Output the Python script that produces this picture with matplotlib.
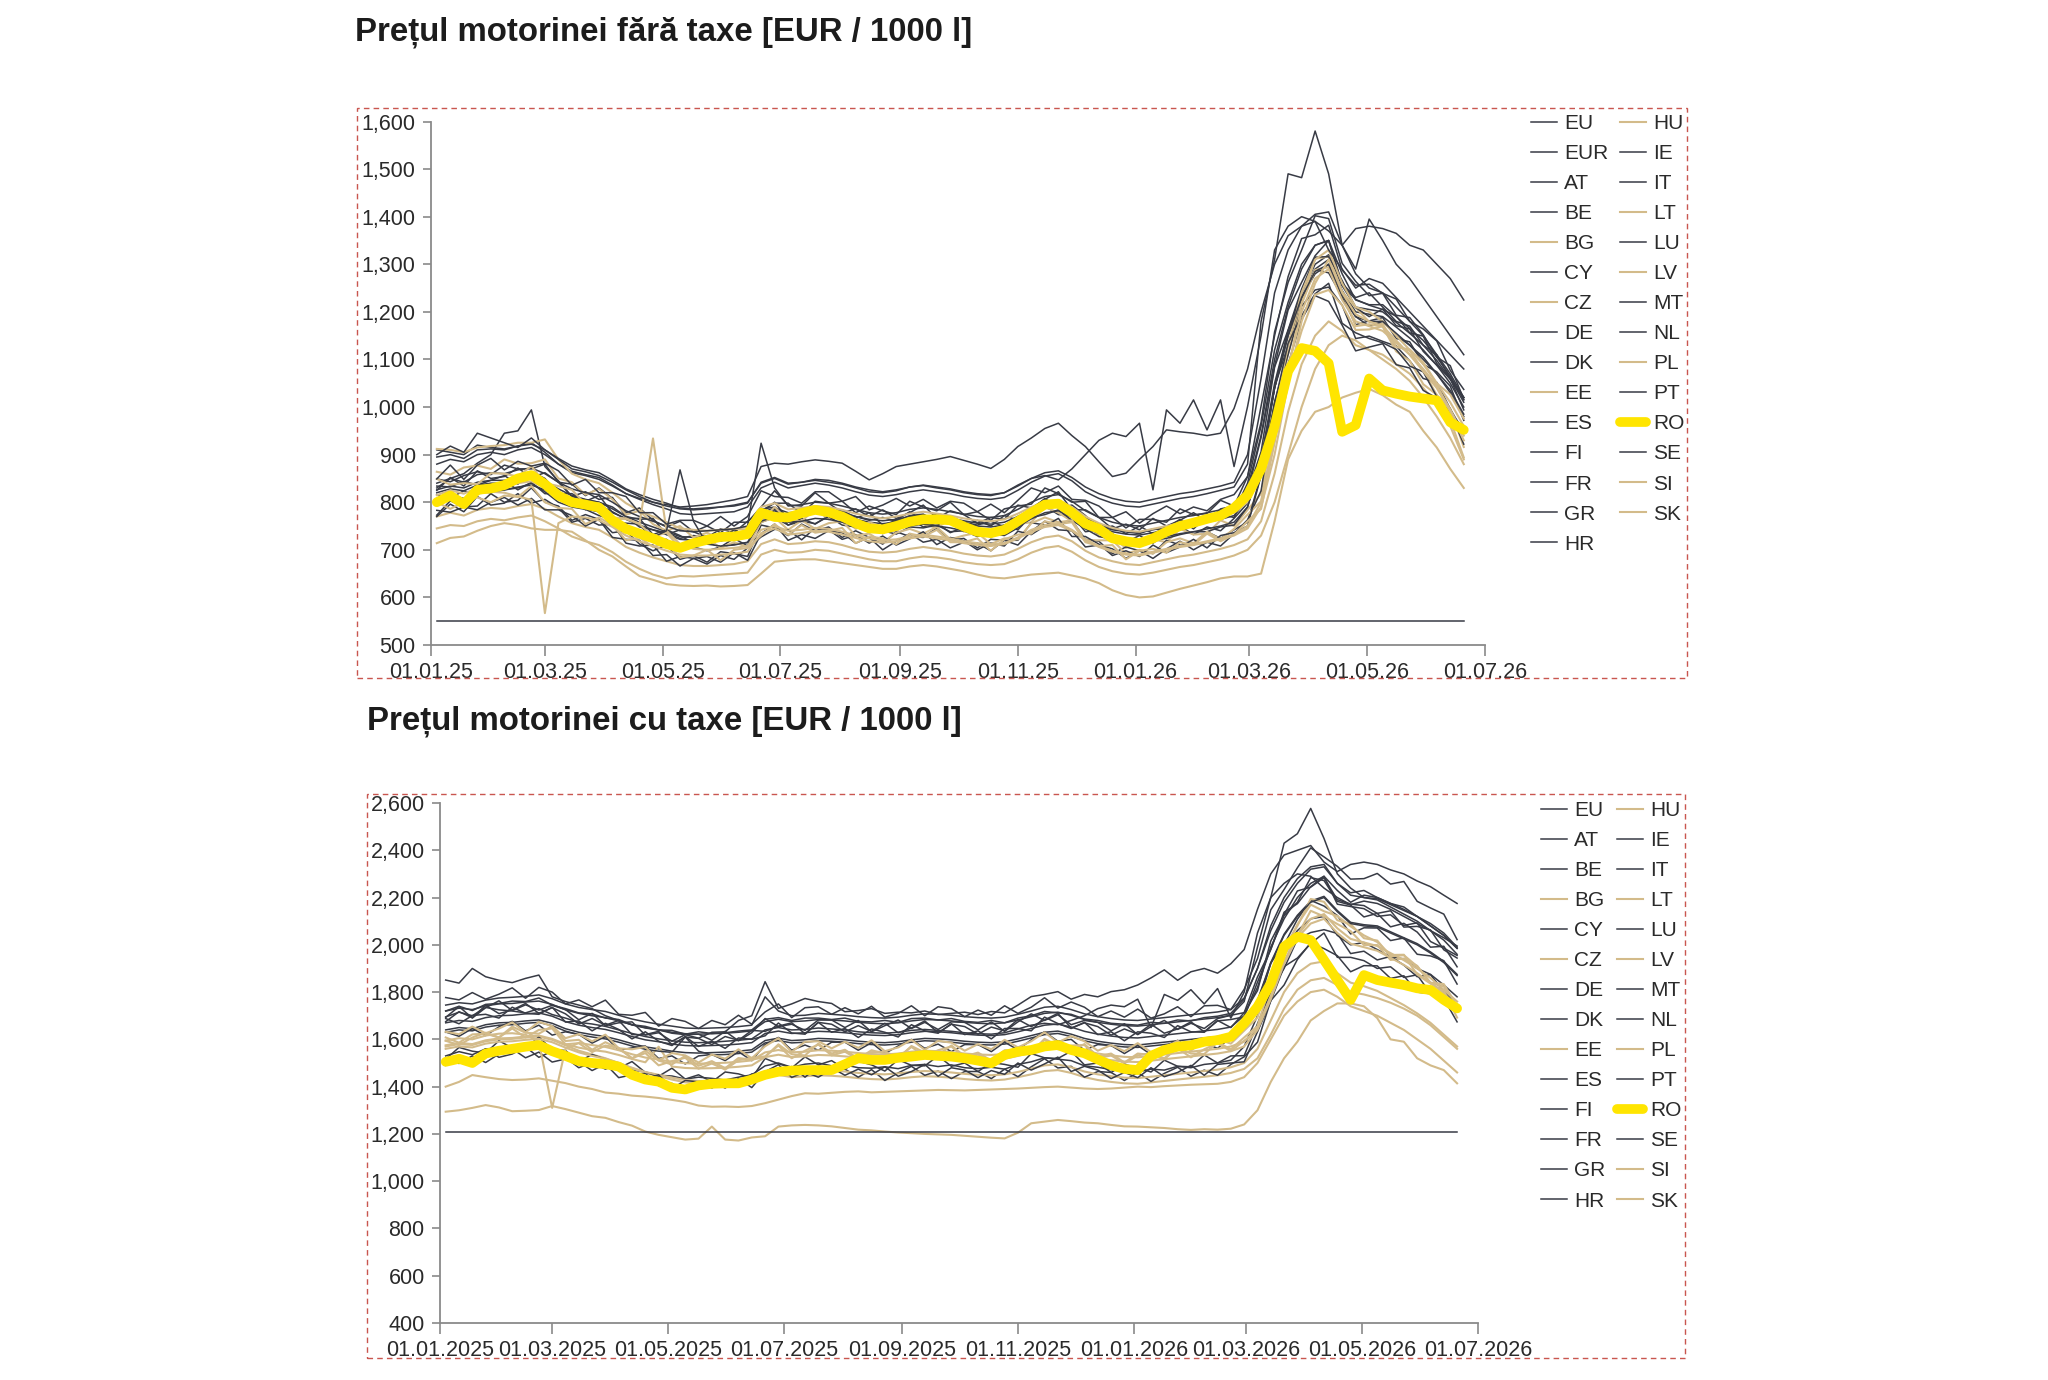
import datetime
import matplotlib
matplotlib.use("Agg")
import matplotlib.pyplot as plt
import matplotlib.dates as mdates
from matplotlib.patches import Rectangle
from matplotlib.ticker import FuncFormatter
import pandas as pd

plt.rcParams['font.family'] = ['Liberation Sans', 'DejaVu Sans']

# ---------------- data ----------------
START_DATE = '2025-01-04'
N_WEEKS = 77
TITLE_TOP = 'Prețul motorinei fără taxe [EUR / 1000 l]'
TITLE_BOT = 'Prețul motorinei cu taxe [EUR / 1000 l]'
TAN_COUNTRIES = ['BG', 'CZ', 'EE', 'HU', 'LT', 'LV', 'PL', 'SI', 'SK']
TOP_ORDER = ['EU', 'EUR', 'AT', 'BE', 'BG', 'CY', 'CZ', 'DE', 'DK', 'EE', 'ES', 'FI', 'FR', 'GR', 'HR',
             'HU', 'IE', 'IT', 'LT', 'LU', 'LV', 'MT', 'NL', 'PL', 'PT', 'RO', 'SE', 'SI', 'SK']
BOT_ORDER = ['EU', 'AT', 'BE', 'BG', 'CY', 'CZ', 'DE', 'DK', 'EE', 'ES', 'FI', 'FR', 'GR', 'HR',
             'HU', 'IE', 'IT', 'LT', 'LU', 'LV', 'MT', 'NL', 'PL', 'PT', 'RO', 'SE', 'SI', 'SK']
TOP_YTICKS = [500, 600, 700, 800, 900, 1000, 1100, 1200, 1300, 1400, 1500, 1600]
BOT_YTICKS = [400, 600, 800, 1000, 1200, 1400, 1600, 1800, 2000, 2200, 2400, 2600]
X_TICK_DATES = ['2025-01-01', '2025-03-01', '2025-05-01', '2025-07-01', '2025-09-01',
                '2025-11-01', '2026-01-01', '2026-03-01', '2026-05-01', '2026-07-01']

# Malta: fixed price (flat line)
TOP_MT_VALUE = 550
BOT_MT_VALUE = 1210

# ---- prices without taxes ----
TOP_EU = [820, 828, 824, 836, 840, 840, 846, 850, 838, 822,
          808, 800, 794, 780, 764, 752, 742, 732, 722, 720,
          720, 722, 724, 730, 772, 782, 772, 774, 778, 776,
          770, 764, 758, 755, 758, 764, 766, 764, 760, 755,
          750, 748, 752, 764, 778, 790, 794, 780, 762, 748,
          738, 733, 731, 736, 742, 748, 752, 758, 764, 772,
          805, 880, 1040, 1150, 1230, 1290, 1310, 1245, 1200, 1195,
          1190, 1168, 1145, 1120, 1088, 1050, 1000]
TOP_EUR = [826, 834, 830, 842, 846, 846, 852, 856, 844, 828,
           814, 806, 800, 786, 770, 758, 748, 738, 728, 726,
           726, 728, 730, 736, 778, 788, 778, 780, 784, 782,
           776, 770, 764, 761, 764, 770, 772, 770, 766, 761,
           756, 754, 758, 770, 784, 796, 800, 786, 768, 754,
           744, 739, 737, 742, 748, 754, 758, 764, 770, 778,
           812, 890, 1050, 1160, 1240, 1300, 1320, 1255, 1210, 1205,
           1200, 1178, 1155, 1130, 1098, 1060, 1010]
TOP_AT = [816, 809, 824, 816, 832, 844, 826, 842, 818, 818,
          806, 784, 798, 758, 756, 754, 720, 722, 698, 712,
          716, 706, 724, 708, 764, 786, 752, 766, 754, 772,
          768, 746, 758, 734, 752, 766, 748, 756, 736, 748,
          746, 730, 752, 742, 772, 792, 774, 772, 738, 742,
          734, 716, 730, 714, 734, 750, 732, 748, 740, 766,
          798, 864, 1042, 1130, 1224, 1289, 1282, 1232, 1173, 1181,
          1188, 1144, 1137, 1090, 1074, 1044, 972]
TOP_BE = [825, 852, 834, 866, 850, 854, 872, 852, 862, 842,
          812, 822, 806, 810, 770, 764, 766, 732, 742, 738,
          726, 744, 736, 760, 782, 798, 798, 776, 802, 798,
          778, 786, 770, 784, 766, 778, 794, 766, 782, 774,
          756, 768, 764, 794, 788, 806, 822, 784, 784, 768,
          744, 754, 742, 766, 750, 762, 778, 760, 786, 792,
          820, 936, 1086, 1204, 1262, 1318, 1350, 1256, 1226, 1214,
          1205, 1191, 1156, 1149, 1092, 1058, 1020]
TOP_CY = [830, 850, 860, 882, 900, 945, 950, 994, 875, 845,
          812, 805, 800, 790, 770, 748, 742, 736, 724, 730,
          726, 718, 728, 738, 785, 790, 770, 782, 790, 772,
          780, 770, 762, 768, 760, 772, 775, 760, 770, 758,
          752, 760, 748, 770, 782, 800, 790, 785, 758, 750,
          742, 738, 734, 744, 740, 756, 750, 762, 768, 780,
          840, 960, 1120, 1220, 1300, 1340, 1350, 1260, 1230, 1240,
          1210, 1180, 1170, 1130, 1110, 1060, 1020]
TOP_DE = [849, 843, 856, 864, 858, 878, 870, 870, 880, 842,
          838, 814, 830, 808, 778, 788, 762, 748, 760, 738,
          750, 736, 758, 758, 790, 824, 794, 792, 820, 798,
          802, 778, 792, 782, 774, 802, 790, 782, 800, 774,
          780, 762, 786, 792, 796, 830, 818, 800, 802, 768,
          768, 746, 764, 764, 758, 786, 774, 776, 804, 792,
          854, 968, 1158, 1262, 1330, 1402, 1396, 1302, 1264, 1234,
          1239, 1193, 1188, 1152, 1105, 1087, 1016]
TOP_DK = [910, 905, 900, 920, 915, 912, 918, 925, 905, 880,
          862, 856, 848, 834, 818, 808, 800, 795, 790, 792,
          795, 800, 805, 812, 875, 882, 880, 885, 889, 886,
          882, 865, 847, 860, 875, 880, 885, 890, 896, 888,
          880, 871, 890, 917, 935, 955, 966, 940, 917, 885,
          854, 861, 890, 917, 952, 948, 945, 940, 945, 997,
          1080, 1200, 1300, 1360, 1380, 1390, 1370, 1340, 1375, 1380,
          1375, 1365, 1340, 1330, 1300, 1270, 1225]
TOP_ES = [773, 803, 790, 792, 818, 800, 804, 830, 800, 792,
          762, 774, 764, 736, 740, 712, 698, 710, 680, 688,
          674, 696, 692, 686, 752, 746, 730, 754, 740, 748,
          726, 740, 726, 712, 738, 728, 726, 746, 720, 724,
          704, 722, 720, 720, 757, 752, 752, 762, 722, 718,
          692, 706, 698, 692, 720, 710, 710, 738, 724, 742,
          758, 858, 1012, 1110, 1212, 1246, 1252, 1214, 1144, 1149,
          1138, 1128, 1097, 1060, 1052, 996, 947]
TOP_FI = [880, 890, 885, 900, 905, 900, 910, 915, 900, 880,
          865, 858, 852, 836, 818, 806, 795, 786, 776, 774,
          776, 778, 780, 790, 830, 842, 830, 835, 840, 836,
          830, 822, 815, 812, 816, 822, 826, 822, 818, 812,
          808, 806, 810, 825, 842, 855, 860, 845, 822, 808,
          798, 792, 790, 796, 802, 808, 812, 818, 825, 832,
          880, 1180, 1310, 1490, 1482, 1580, 1490, 1340, 1280, 1250,
          1240, 1210, 1180, 1150, 1110, 1070, 1020]
TOP_FR = [834, 832, 844, 836, 846, 856, 838, 864, 850, 818,
          818, 802, 814, 778, 766, 766, 732, 742, 730, 714,
          730, 724, 742, 728, 778, 800, 764, 786, 790, 774,
          784, 766, 778, 752, 762, 780, 760, 776, 770, 750,
          762, 750, 772, 762, 784, 808, 788, 794, 772, 744,
          750, 734, 750, 734, 746, 764, 744, 770, 774, 768,
          821, 906, 1084, 1162, 1248, 1315, 1316, 1266, 1209, 1190,
          1206, 1171, 1164, 1117, 1088, 1060, 994]
TOP_GR = [800, 812, 798, 822, 820, 826, 830, 840, 822, 800,
          790, 785, 772, 764, 742, 736, 720, 718, 702, 706,
          698, 706, 712, 715, 758, 768, 752, 760, 755, 770,
          752, 748, 738, 740, 733, 748, 746, 752, 738, 740,
          728, 734, 730, 746, 768, 774, 784, 762, 744, 728,
          722, 716, 712, 720, 724, 732, 738, 738, 748, 752,
          790, 890, 1040, 1160, 1230, 1280, 1300, 1230, 1190, 1170,
          1180, 1150, 1130, 1100, 1070, 1030, 980]
TOP_HR = [783, 779, 790, 784, 800, 810, 794, 808, 784, 784,
          772, 750, 764, 726, 722, 720, 688, 690, 666, 682,
          686, 674, 694, 678, 734, 754, 720, 732, 724, 740,
          736, 714, 726, 700, 718, 734, 716, 722, 704, 716,
          714, 698, 720, 710, 739, 760, 742, 740, 706, 710,
          702, 682, 698, 682, 702, 718, 700, 716, 708, 734,
          763, 824, 1002, 1090, 1184, 1234, 1222, 1172, 1118, 1126,
          1133, 1089, 1082, 1035, 1019, 989, 922]
TOP_IE = [895, 900, 892, 910, 912, 910, 918, 922, 910, 892,
          876, 868, 862, 846, 828, 816, 806, 798, 788, 786,
          788, 790, 792, 798, 842, 852, 840, 842, 848, 846,
          840, 832, 826, 822, 826, 832, 836, 832, 828, 822,
          818, 816, 820, 834, 850, 862, 866, 852, 832, 818,
          808, 802, 800, 806, 812, 818, 822, 828, 834, 842,
          900, 1060, 1240, 1330, 1380, 1405, 1410, 1340, 1290, 1395,
          1350, 1300, 1270, 1230, 1190, 1150, 1110]
TOP_IT = [840, 850, 842, 858, 862, 860, 868, 872, 860, 842,
          828, 820, 816, 800, 782, 770, 760, 750, 740, 738,
          740, 742, 744, 750, 924, 830, 792, 795, 800, 798,
          792, 785, 778, 775, 778, 785, 788, 785, 780, 775,
          770, 768, 772, 785, 800, 812, 816, 802, 782, 768,
          758, 752, 750, 756, 762, 768, 772, 778, 784, 792,
          830, 940, 1100, 1210, 1290, 1340, 1350, 1280, 1225, 1215,
          1215, 1190, 1165, 1140, 1105, 1065, 1015]
TOP_LU = [770, 796, 780, 812, 794, 798, 818, 798, 806, 788,
          758, 766, 752, 754, 714, 708, 710, 676, 686, 682,
          670, 688, 680, 704, 727, 743, 742, 721, 746, 742,
          722, 731, 714, 729, 710, 723, 738, 711, 726, 719,
          700, 714, 708, 739, 732, 750, 766, 728, 728, 712,
          688, 698, 686, 710, 694, 706, 722, 704, 730, 736,
          750, 856, 1006, 1134, 1192, 1238, 1260, 1176, 1156, 1144,
          1135, 1121, 1086, 1074, 1022, 988, 955]
TOP_NL = [849, 878, 848, 878, 892, 868, 886, 876, 882, 866,
          836, 848, 820, 820, 812, 778, 778, 754, 762, 762,
          750, 770, 750, 770, 824, 812, 810, 798, 822, 822,
          802, 812, 784, 794, 808, 792, 806, 788, 802, 798,
          780, 796, 778, 804, 830, 820, 834, 806, 804, 792,
          768, 780, 756, 776, 792, 776, 790, 782, 806, 816,
          854, 1002, 1150, 1274, 1354, 1362, 1382, 1288, 1256, 1258,
          1239, 1227, 1180, 1164, 1139, 1077, 1037]
TOP_PT = [805, 815, 808, 824, 826, 826, 832, 836, 826, 808,
          792, 786, 780, 766, 748, 736, 726, 740, 868, 760,
          712, 708, 710, 716, 760, 770, 758, 760, 766, 764,
          758, 750, 744, 740, 744, 750, 754, 750, 746, 740,
          736, 734, 738, 750, 765, 778, 782, 768, 748, 734,
          724, 718, 716, 722, 728, 734, 738, 744, 750, 758,
          790, 880, 1040, 1150, 1230, 1285, 1300, 1235, 1190, 1180,
          1180, 1155, 1130, 1105, 1070, 1035, 985]
TOP_SE = [900, 918, 905, 945, 935, 925, 915, 935, 910, 890,
          870, 864, 856, 842, 826, 812, 800, 792, 786, 784,
          786, 790, 794, 800, 840, 850, 838, 842, 846, 842,
          838, 830, 822, 820, 824, 832, 835, 830, 826, 820,
          816, 814, 820, 836, 850, 856, 847, 870, 900, 930,
          945, 938, 966, 826, 994, 966, 1015, 952, 1015, 875,
          1001, 1150, 1330, 1380, 1400, 1390, 1330, 1290, 1250, 1270,
          1260, 1230, 1200, 1170, 1140, 1110, 1080]
TOP_HU = [912, 910, 905, 915, 918, 920, 925, 925, 932, 890,
          860, 848, 840, 820, 798, 782, 770, 758, 745, 742,
          740, 742, 744, 748, 790, 798, 785, 788, 792, 790,
          784, 776, 770, 766, 770, 776, 780, 776, 772, 766,
          762, 760, 764, 776, 790, 800, 804, 790, 770, 756,
          746, 740, 738, 744, 750, 756, 760, 766, 772, 778,
          800, 860, 990, 1130, 1240, 1310, 1330, 1260, 1210, 1200,
          1180, 1150, 1120, 1090, 1050, 1010, 960]
TOP_EE = [864, 858, 873, 877, 870, 890, 881, 882, 890, 850,
          842, 816, 828, 806, 774, 782, 754, 740, 750, 726,
          736, 722, 744, 742, 760, 790, 762, 760, 786, 764,
          768, 744, 758, 748, 738, 766, 754, 746, 764, 738,
          744, 726, 748, 754, 758, 790, 778, 760, 762, 728,
          726, 704, 722, 722, 716, 744, 732, 734, 762, 750,
          784, 818, 968, 1112, 1220, 1312, 1316, 1242, 1209, 1179,
          1174, 1128, 1118, 1077, 1025, 997, 916]
TOP_LT = [849, 837, 840, 838, 861, 860, 854, 876, 840, 834,
          826, 796, 798, 768, 766, 754, 728, 736, 704, 714,
          724, 704, 716, 706, 758, 768, 742, 762, 744, 756,
          760, 730, 734, 716, 736, 744, 734, 748, 722, 730,
          736, 712, 724, 722, 756, 768, 758, 762, 720, 720,
          720, 692, 700, 692, 716, 724, 714, 738, 722, 744,
          774, 802, 942, 1078, 1216, 1288, 1294, 1242, 1170, 1174,
          1169, 1117, 1097, 1048, 1026, 973, 894]
TOP_LV = [815, 825, 818, 830, 835, 832, 840, 844, 830, 812,
          796, 788, 780, 764, 765, 755, 934, 740, 712, 702,
          700, 702, 704, 708, 742, 750, 740, 742, 746, 744,
          738, 730, 724, 720, 722, 728, 732, 728, 724, 718,
          714, 712, 714, 726, 742, 752, 756, 742, 722, 708,
          698, 692, 690, 696, 702, 708, 712, 718, 724, 732,
          750, 800, 930, 1080, 1200, 1270, 1290, 1225, 1180, 1170,
          1160, 1135, 1110, 1080, 1045, 995, 940]
TOP_SK = [800, 810, 806, 818, 822, 820, 812, 805, 567, 756,
          770, 768, 762, 748, 730, 718, 708, 698, 690, 688,
          688, 690, 692, 696, 735, 745, 732, 735, 740, 738,
          732, 725, 718, 715, 718, 724, 728, 724, 720, 714,
          710, 708, 712, 724, 738, 748, 752, 740, 720, 706,
          696, 690, 688, 694, 700, 706, 710, 716, 722, 730,
          745, 790, 900, 1050, 1180, 1260, 1310, 1240, 1195, 1180,
          1170, 1140, 1110, 1075, 1040, 990, 930]
TOP_SI = [800, 786, 800, 810, 800, 814, 811, 834, 800, 788,
          786, 754, 768, 752, 720, 726, 706, 714, 684, 688,
          700, 678, 700, 704, 730, 754, 732, 752, 736, 740,
          746, 714, 728, 724, 712, 734, 728, 742, 716, 716,
          724, 698, 722, 732, 734, 760, 754, 758, 716, 708,
          710, 680, 698, 702, 694, 716, 710, 734, 718, 732,
          760, 786, 926, 1064, 1160, 1236, 1246, 1214, 1162, 1163,
          1170, 1126, 1121, 1094, 1050, 1026, 976]
TOP_CZ = [770, 778, 772, 784, 788, 786, 792, 796, 786, 770,
          756, 748, 742, 726, 706, 694, 684, 676, 668, 666,
          666, 668, 670, 676, 712, 722, 712, 714, 718, 716,
          710, 702, 696, 694, 696, 702, 706, 702, 698, 692,
          688, 686, 690, 702, 716, 726, 730, 718, 698, 684,
          676, 670, 668, 674, 680, 686, 690, 696, 702, 710,
          722, 760, 860, 990, 1090, 1150, 1180, 1160, 1130, 1120,
          1110, 1090, 1070, 1040, 1005, 960, 890]
TOP_BG = [745, 752, 750, 760, 765, 762, 768, 772, 760, 745,
          728, 718, 710, 695, 675, 660, 648, 640, 645, 644,
          646, 648, 650, 652, 690, 700, 694, 695, 700, 698,
          692, 686, 680, 676, 676, 682, 686, 684, 680, 674,
          670, 668, 670, 680, 694, 704, 708, 696, 678, 664,
          655, 650, 648, 652, 658, 664, 668, 674, 680, 688,
          700, 730, 800, 900, 1000, 1080, 1130, 1150, 1140, 1120,
          1100, 1080, 1055, 1020, 980, 935, 880]
TOP_PL = [714, 725, 728, 740, 750, 756, 752, 745, 742, 742,
          738, 720, 700, 686, 665, 645, 637, 628, 625, 624,
          625, 623, 624, 626, 650, 675, 678, 680, 680, 676,
          672, 668, 664, 660, 660, 665, 668, 665, 660, 655,
          648, 642, 640, 644, 648, 650, 652, 646, 640, 630,
          615, 605, 600, 602, 610, 618, 625, 632, 640, 644,
          644, 650, 760, 890, 950, 990, 1000, 1020, 1030, 1038,
          1025, 1005, 990, 950, 915, 870, 830]
TOP_RO = [800, 814, 796, 826, 829, 836, 850, 857, 838, 814,
          800, 795, 789, 762, 744, 734, 724, 712, 704, 714,
          721, 727, 728, 733, 778, 769, 768, 777, 784, 779,
          770, 756, 745, 743, 750, 759, 764, 764, 762, 749,
          738, 735, 742, 760, 778, 795, 797, 778, 755, 744,
          724, 718, 714, 724, 738, 750, 757, 765, 772, 788,
          815, 870, 960, 1075, 1124, 1118, 1092, 948, 962, 1060,
          1035, 1028, 1022, 1018, 1014, 968, 952]

# ---- prices with taxes ----
BOT_EU = [1640, 1650, 1645, 1662, 1670, 1672, 1678, 1682, 1668, 1645,
          1630, 1620, 1612, 1598, 1582, 1568, 1560, 1550, 1544, 1542,
          1544, 1546, 1550, 1556, 1595, 1605, 1595, 1598, 1604, 1602,
          1598, 1592, 1588, 1586, 1590, 1598, 1604, 1602, 1598, 1592,
          1588, 1586, 1590, 1602, 1616, 1630, 1635, 1622, 1604, 1592,
          1584, 1578, 1576, 1582, 1588, 1594, 1600, 1606, 1612, 1622,
          1660, 1765, 1925, 2045, 2125, 2185, 2205, 2145, 2095, 2085,
          2080, 2055, 2030, 2005, 1970, 1930, 1875]
BOT_AT = [1631, 1613, 1646, 1616, 1653, 1676, 1636, 1660, 1618, 1632,
          1621, 1584, 1612, 1554, 1564, 1572, 1519, 1530, 1496, 1530,
          1536, 1510, 1548, 1510, 1578, 1608, 1554, 1576, 1554, 1588,
          1588, 1554, 1586, 1540, 1572, 1600, 1562, 1580, 1548, 1578,
          1578, 1548, 1588, 1556, 1598, 1632, 1592, 1600, 1554, 1578,
          1574, 1540, 1574, 1536, 1570, 1596, 1558, 1584, 1562, 1608,
          1646, 1728, 1924, 2000, 2108, 2188, 2164, 2124, 2046, 2072,
          2071, 2018, 2029, 1960, 1953, 1933, 1834]
BOT_BE = [1675, 1717, 1692, 1744, 1709, 1724, 1752, 1710, 1734, 1708,
          1665, 1688, 1660, 1680, 1620, 1620, 1634, 1578, 1610, 1604,
          1578, 1612, 1596, 1638, 1634, 1656, 1670, 1624, 1672, 1664,
          1632, 1658, 1634, 1668, 1628, 1648, 1678, 1628, 1664, 1654,
          1622, 1652, 1636, 1684, 1654, 1682, 1710, 1648, 1670, 1654,
          1618, 1644, 1622, 1664, 1626, 1644, 1674, 1632, 1678, 1684,
          1695, 1842, 1982, 2138, 2174, 2246, 2290, 2172, 2162, 2153,
          2120, 2127, 2082, 2093, 2014, 1986, 1955]
BOT_CY = [1530, 1548, 1535, 1560, 1562, 1570, 1575, 1585, 1560, 1540,
          1522, 1515, 1502, 1492, 1470, 1462, 1448, 1445, 1432, 1440,
          1435, 1428, 1440, 1450, 1488, 1500, 1482, 1495, 1500, 1488,
          1492, 1480, 1478, 1484, 1476, 1490, 1494, 1485, 1492, 1480,
          1476, 1482, 1474, 1494, 1505, 1522, 1516, 1510, 1488, 1482,
          1472, 1468, 1462, 1474, 1470, 1486, 1480, 1494, 1500, 1512,
          1570, 1700, 1860, 1980, 2060, 2110, 2120, 2040, 2000, 2010,
          1980, 1950, 1940, 1900, 1875, 1830, 1780]
BOT_DE = [1688, 1666, 1701, 1706, 1690, 1736, 1710, 1706, 1736, 1673,
          1678, 1636, 1668, 1642, 1602, 1632, 1592, 1574, 1612, 1570,
          1592, 1562, 1606, 1600, 1615, 1669, 1627, 1622, 1672, 1630,
          1646, 1608, 1644, 1630, 1610, 1662, 1636, 1626, 1666, 1620,
          1636, 1602, 1646, 1646, 1636, 1694, 1667, 1646, 1672, 1620,
          1632, 1594, 1632, 1626, 1608, 1658, 1632, 1630, 1680, 1650,
          1713, 1806, 2016, 2124, 2180, 2284, 2272, 2184, 2168, 2118,
          2133, 2076, 2091, 2054, 1990, 1994, 1907]
BOT_DK = [1851, 1838, 1900, 1865, 1850, 1840, 1858, 1872, 1780, 1760,
          1745, 1730, 1700, 1680, 1661, 1650, 1640, 1626, 1620, 1605,
          1630, 1632, 1680, 1700, 1844, 1731, 1750, 1773, 1760, 1752,
          1717, 1722, 1730, 1710, 1715, 1712, 1720, 1705, 1710, 1715,
          1705, 1718, 1712, 1745, 1781, 1790, 1802, 1770, 1790, 1780,
          1802, 1810, 1830, 1860, 1894, 1850, 1886, 1900, 1880, 1920,
          1980, 2150, 2300, 2380, 2400, 2420, 2350, 2310, 2340, 2350,
          2340, 2317, 2300, 2270, 2246, 2210, 2175]
BOT_ES = [1516, 1566, 1550, 1542, 1594, 1564, 1562, 1610, 1556, 1553,
          1506, 1536, 1516, 1478, 1506, 1460, 1444, 1478, 1432, 1450,
          1420, 1462, 1454, 1436, 1519, 1497, 1479, 1526, 1492, 1510,
          1474, 1508, 1492, 1466, 1514, 1490, 1488, 1530, 1486, 1500,
          1464, 1502, 1494, 1482, 1540, 1522, 1519, 1550, 1492, 1500,
          1460, 1494, 1480, 1462, 1512, 1486, 1484, 1534, 1500, 1530,
          1531, 1666, 1804, 1900, 2024, 2052, 2064, 2048, 1963, 1973,
          1936, 1951, 1914, 1865, 1874, 1802, 1744]
BOT_FI = [1720, 1732, 1726, 1742, 1750, 1752, 1758, 1762, 1748, 1725,
          1710, 1700, 1692, 1678, 1662, 1648, 1640, 1630, 1624, 1622,
          1624, 1626, 1630, 1636, 1675, 1685, 1675, 1678, 1684, 1682,
          1678, 1672, 1668, 1666, 1670, 1678, 1684, 1682, 1678, 1672,
          1668, 1666, 1670, 1682, 1696, 1710, 1715, 1702, 1684, 1672,
          1664, 1658, 1656, 1662, 1668, 1674, 1680, 1686, 1692, 1702,
          1760, 1990, 2200, 2430, 2470, 2577, 2450, 2300, 2240, 2200,
          2190, 2160, 2130, 2100, 2060, 2020, 1960]
BOT_FR = [1693, 1739, 1690, 1734, 1763, 1722, 1746, 1724, 1744, 1726,
          1683, 1710, 1658, 1670, 1674, 1618, 1628, 1592, 1620, 1622,
          1596, 1634, 1594, 1628, 1688, 1654, 1664, 1638, 1682, 1682,
          1650, 1680, 1632, 1658, 1682, 1646, 1672, 1642, 1674, 1672,
          1640, 1674, 1634, 1674, 1708, 1680, 1704, 1662, 1680, 1672,
          1636, 1666, 1620, 1654, 1680, 1642, 1668, 1646, 1688, 1702,
          1713, 1864, 1980, 2128, 2228, 2244, 2284, 2191, 2172, 2166,
          2133, 2144, 2075, 2078, 2063, 1979, 1944]
BOT_GR = [1720, 1740, 1722, 1748, 1752, 1762, 1760, 1775, 1745, 1730,
          1712, 1708, 1690, 1684, 1662, 1655, 1640, 1638, 1622, 1632,
          1625, 1628, 1635, 1640, 1685, 1692, 1680, 1690, 1690, 1684,
          1690, 1676, 1674, 1680, 1672, 1688, 1690, 1682, 1688, 1676,
          1672, 1680, 1670, 1690, 1700, 1718, 1712, 1706, 1686, 1680,
          1668, 1664, 1660, 1672, 1668, 1682, 1678, 1692, 1698, 1710,
          1770, 1900, 2080, 2200, 2280, 2330, 2340, 2260, 2220, 2230,
          2200, 2175, 2160, 2120, 2090, 2050, 1990]
BOT_HR = [1516, 1498, 1530, 1502, 1538, 1560, 1522, 1546, 1504, 1517,
          1506, 1468, 1496, 1438, 1450, 1456, 1404, 1414, 1380, 1414,
          1420, 1394, 1434, 1396, 1463, 1493, 1439, 1462, 1440, 1474,
          1474, 1440, 1472, 1426, 1458, 1486, 1448, 1466, 1434, 1464,
          1464, 1434, 1474, 1442, 1484, 1518, 1479, 1486, 1440, 1464,
          1460, 1426, 1460, 1422, 1456, 1482, 1444, 1470, 1448, 1494,
          1526, 1588, 1764, 1830, 1938, 2008, 1984, 1954, 1886, 1912,
          1911, 1858, 1869, 1800, 1793, 1773, 1674]
BOT_IE = [1670, 1680, 1676, 1692, 1700, 1702, 1708, 1712, 1698, 1675,
          1660, 1650, 1642, 1628, 1612, 1598, 1590, 1580, 1574, 1572,
          1574, 1576, 1580, 1586, 1625, 1635, 1625, 1628, 1634, 1632,
          1628, 1622, 1618, 1616, 1620, 1628, 1634, 1632, 1628, 1622,
          1618, 1616, 1620, 1632, 1646, 1660, 1665, 1652, 1634, 1622,
          1614, 1608, 1606, 1612, 1618, 1624, 1630, 1636, 1642, 1652,
          1700, 1820, 1990, 2110, 2200, 2260, 2290, 2230, 2180, 2210,
          2200, 2175, 2150, 2120, 2080, 2040, 1985]
BOT_IT = [1745, 1755, 1750, 1766, 1775, 1778, 1782, 1788, 1772, 1750,
          1735, 1726, 1718, 1702, 1686, 1674, 1664, 1656, 1648, 1646,
          1648, 1650, 1654, 1660, 1780, 1720, 1700, 1702, 1710, 1706,
          1702, 1696, 1692, 1690, 1694, 1702, 1708, 1706, 1702, 1696,
          1692, 1690, 1694, 1706, 1720, 1736, 1740, 1726, 1708, 1696,
          1688, 1682, 1680, 1686, 1692, 1698, 1704, 1710, 1716, 1726,
          1775, 1900, 2060, 2180, 2260, 2320, 2330, 2260, 2210, 2200,
          2195, 2170, 2145, 2120, 2080, 2040, 1985]
BOT_LU = [1490, 1532, 1508, 1560, 1524, 1538, 1568, 1524, 1550, 1523,
          1480, 1502, 1474, 1496, 1436, 1434, 1450, 1392, 1426, 1420,
          1394, 1428, 1412, 1454, 1449, 1471, 1485, 1440, 1486, 1480,
          1448, 1474, 1450, 1484, 1444, 1464, 1494, 1444, 1480, 1470,
          1438, 1468, 1452, 1500, 1470, 1496, 1525, 1464, 1486, 1470,
          1434, 1460, 1438, 1480, 1442, 1460, 1490, 1448, 1494, 1500,
          1505, 1632, 1762, 1908, 1944, 2006, 2050, 1947, 1947, 1933,
          1900, 1907, 1862, 1873, 1794, 1766, 1735]
BOT_NL = [1777, 1767, 1798, 1770, 1791, 1818, 1774, 1820, 1800, 1750,
          1767, 1738, 1766, 1706, 1702, 1714, 1656, 1688, 1676, 1646,
          1680, 1662, 1702, 1664, 1716, 1750, 1692, 1734, 1738, 1706,
          1734, 1708, 1740, 1694, 1710, 1742, 1700, 1738, 1730, 1696,
          1724, 1702, 1742, 1710, 1736, 1776, 1732, 1758, 1736, 1696,
          1720, 1694, 1728, 1690, 1708, 1738, 1696, 1742, 1744, 1726,
          1812, 1942, 2148, 2234, 2326, 2410, 2372, 2332, 2278, 2280,
          2302, 2257, 2268, 2184, 2156, 2130, 2022]
BOT_PT = [1630, 1640, 1636, 1652, 1660, 1662, 1668, 1672, 1658, 1635,
          1620, 1610, 1602, 1588, 1572, 1558, 1550, 1545, 1610, 1550,
          1534, 1536, 1540, 1546, 1585, 1595, 1585, 1588, 1594, 1592,
          1588, 1582, 1578, 1576, 1580, 1588, 1594, 1592, 1588, 1582,
          1578, 1576, 1580, 1592, 1606, 1620, 1625, 1612, 1594, 1582,
          1574, 1568, 1566, 1572, 1578, 1584, 1590, 1596, 1602, 1612,
          1650, 1760, 1920, 2040, 2120, 2180, 2200, 2140, 2090, 2080,
          2075, 2050, 2025, 2000, 1965, 1925, 1870]
BOT_SE = [1695, 1715, 1700, 1735, 1725, 1720, 1712, 1730, 1705, 1690,
          1672, 1665, 1655, 1640, 1625, 1612, 1602, 1594, 1588, 1586,
          1588, 1592, 1596, 1602, 1640, 1650, 1640, 1642, 1648, 1644,
          1640, 1632, 1628, 1626, 1630, 1638, 1642, 1638, 1634, 1628,
          1624, 1622, 1628, 1644, 1660, 1668, 1662, 1680, 1700, 1730,
          1745, 1738, 1770, 1650, 1790, 1765, 1810, 1750, 1815, 1690,
          1800, 2050, 2200, 2260, 2300, 2290, 2240, 2200, 2170, 2185,
          2175, 2150, 2120, 2090, 2060, 2030, 1995]
BOT_HU = [1608, 1586, 1621, 1624, 1608, 1654, 1628, 1624, 1656, 1593,
          1598, 1556, 1588, 1562, 1520, 1552, 1510, 1494, 1530, 1488,
          1508, 1478, 1521, 1514, 1525, 1579, 1537, 1532, 1582, 1540,
          1556, 1518, 1554, 1540, 1520, 1572, 1544, 1534, 1574, 1528,
          1544, 1510, 1554, 1554, 1544, 1602, 1574, 1554, 1580, 1528,
          1540, 1502, 1540, 1534, 1516, 1566, 1540, 1538, 1588, 1558,
          1608, 1656, 1836, 1984, 2080, 2194, 2182, 2104, 2088, 2028,
          2018, 1951, 1956, 1909, 1840, 1834, 1742]
BOT_EE = [1594, 1576, 1608, 1628, 1608, 1646, 1608, 1640, 1646, 1579,
          1584, 1546, 1574, 1564, 1520, 1542, 1490, 1508, 1522, 1476,
          1498, 1472, 1512, 1522, 1528, 1574, 1520, 1552, 1578, 1532,
          1548, 1514, 1546, 1548, 1524, 1568, 1528, 1554, 1570, 1520,
          1536, 1506, 1546, 1562, 1548, 1598, 1558, 1574, 1576, 1520,
          1532, 1498, 1532, 1542, 1520, 1562, 1524, 1558, 1584, 1550,
          1594, 1636, 1802, 1956, 2038, 2144, 2120, 2088, 2058, 1999,
          1999, 1936, 1942, 1911, 1838, 1824, 1720]
BOT_LT = [1560, 1570, 1566, 1582, 1590, 1592, 1598, 1602, 1588, 1565,
          1545, 1530, 1518, 1500, 1480, 1462, 1450, 1438, 1428, 1424,
          1424, 1425, 1428, 1432, 1462, 1472, 1462, 1465, 1470, 1468,
          1464, 1458, 1454, 1452, 1456, 1462, 1466, 1464, 1460, 1454,
          1450, 1448, 1452, 1462, 1476, 1490, 1494, 1482, 1464, 1452,
          1444, 1438, 1436, 1442, 1448, 1454, 1460, 1466, 1472, 1482,
          1500, 1560, 1680, 1800, 1880, 1920, 1930, 1880, 1840, 1825,
          1805, 1775, 1745, 1710, 1670, 1620, 1570]
BOT_LV = [1575, 1585, 1580, 1596, 1604, 1606, 1612, 1616, 1602, 1580,
          1565, 1555, 1548, 1534, 1517, 1503, 1569, 1485, 1479, 1477,
          1478, 1480, 1484, 1490, 1525, 1535, 1525, 1528, 1534, 1532,
          1528, 1522, 1518, 1516, 1520, 1528, 1532, 1530, 1526, 1520,
          1516, 1514, 1518, 1530, 1544, 1558, 1562, 1550, 1532, 1520,
          1512, 1506, 1504, 1510, 1516, 1522, 1528, 1534, 1540, 1550,
          1570, 1640, 1770, 1920, 2030, 2090, 2110, 2050, 2005, 1990,
          1975, 1945, 1915, 1880, 1840, 1795, 1740]
BOT_SK = [1595, 1605, 1600, 1616, 1624, 1626, 1620, 1590, 1310, 1560,
          1585, 1576, 1568, 1554, 1537, 1523, 1515, 1505, 1499, 1497,
          1499, 1501, 1505, 1511, 1545, 1555, 1545, 1548, 1554, 1552,
          1548, 1542, 1538, 1536, 1540, 1548, 1552, 1550, 1546, 1540,
          1536, 1534, 1538, 1550, 1564, 1578, 1582, 1570, 1552, 1540,
          1532, 1526, 1524, 1530, 1536, 1542, 1548, 1554, 1560, 1570,
          1590, 1650, 1780, 1930, 2040, 2110, 2130, 2070, 2025, 2010,
          1995, 1965, 1935, 1900, 1860, 1810, 1760]
BOT_SI = [1632, 1622, 1654, 1626, 1646, 1672, 1630, 1674, 1656, 1605,
          1622, 1592, 1620, 1562, 1558, 1568, 1512, 1542, 1532, 1502,
          1536, 1518, 1558, 1520, 1571, 1605, 1547, 1590, 1592, 1562,
          1590, 1564, 1596, 1550, 1566, 1598, 1556, 1594, 1586, 1552,
          1580, 1558, 1598, 1566, 1592, 1630, 1587, 1614, 1592, 1552,
          1576, 1550, 1584, 1546, 1564, 1594, 1552, 1598, 1600, 1582,
          1637, 1692, 1868, 1974, 2086, 2170, 2142, 2122, 2078, 2040,
          2012, 1957, 1958, 1874, 1836, 1805, 1692]
BOT_CZ = [1570, 1580, 1576, 1592, 1600, 1602, 1608, 1612, 1598, 1575,
          1552, 1536, 1520, 1500, 1478, 1458, 1444, 1430, 1418, 1412,
          1410, 1408, 1410, 1414, 1440, 1450, 1440, 1444, 1448, 1446,
          1442, 1436, 1432, 1430, 1434, 1440, 1444, 1442, 1438, 1432,
          1428, 1426, 1430, 1440, 1452, 1466, 1470, 1458, 1440, 1428,
          1420, 1414, 1412, 1418, 1424, 1430, 1436, 1442, 1448, 1458,
          1475, 1520, 1620, 1730, 1810, 1850, 1860, 1830, 1800, 1790,
          1775, 1755, 1730, 1700, 1660, 1610, 1560]
BOT_PL = [1400, 1420, 1449, 1440, 1432, 1428, 1430, 1435, 1425, 1415,
          1400, 1390, 1375, 1370, 1362, 1358, 1352, 1344, 1335, 1320,
          1315, 1316, 1314, 1318, 1330, 1345, 1360, 1372, 1370, 1374,
          1378, 1380, 1376, 1378, 1380, 1382, 1384, 1386, 1385, 1384,
          1386, 1388, 1390, 1392, 1395, 1398, 1400, 1396, 1392, 1390,
          1392, 1396, 1400, 1398, 1402, 1405, 1408, 1410, 1412, 1420,
          1440, 1500, 1600, 1700, 1760, 1800, 1810, 1780, 1740, 1720,
          1700, 1670, 1640, 1600, 1560, 1510, 1460]
BOT_BG = [1294, 1300, 1310, 1322, 1312, 1296, 1298, 1301, 1318, 1305,
          1290, 1275, 1268, 1250, 1235, 1210, 1196, 1186, 1176, 1180,
          1231, 1176, 1172, 1185, 1190, 1231, 1236, 1238, 1236, 1232,
          1225, 1218, 1215, 1210, 1206, 1203, 1200, 1198, 1196, 1192,
          1188, 1184, 1181, 1205, 1245, 1252, 1259, 1254, 1248, 1245,
          1238, 1232, 1231, 1228, 1225, 1220, 1217, 1220, 1218, 1222,
          1240, 1300, 1420, 1520, 1590, 1680, 1720, 1752, 1752, 1740,
          1690, 1600, 1590, 1520, 1490, 1470, 1414]
BOT_RO = [1505, 1518, 1500, 1540, 1552, 1560, 1569, 1576, 1550, 1530,
          1508, 1500, 1495, 1485, 1450, 1430, 1421, 1395, 1388, 1405,
          1412, 1414, 1414, 1430, 1450, 1463, 1468, 1470, 1470, 1470,
          1495, 1520, 1513, 1513, 1522, 1527, 1534, 1530, 1527, 1520,
          1510, 1499, 1534, 1548, 1555, 1570, 1576, 1555, 1541, 1515,
          1490, 1475, 1470, 1530, 1555, 1569, 1575, 1590, 1597, 1611,
          1668, 1738, 1837, 1992, 2034, 2020, 1936, 1851, 1767, 1872,
          1851, 1840, 1830, 1816, 1809, 1767, 1731]

# ---------------- styling ----------------
W, H = 2048, 1380
DARK = '#383b45'
TAN = '#d3bb8a'
YELLOW = '#ffe500'
SPINE = '#8a8a8a'
TXT = '#2a2a2a'
BOX = '#c9564f'

dates = pd.date_range(START_DATE, periods=N_WEEKS, freq='7D')
g = globals()


def series(prefix, code):
    if code == 'MT':
        v = TOP_MT_VALUE if prefix == 'TOP' else BOT_MT_VALUE
        return [v] * N_WEEKS
    vals = g[f'{prefix}_{code}']
    if len(vals) != N_WEEKS:
        raise ValueError(f'{prefix}_{code} has {len(vals)} values')
    return vals


def px(x0, y0, x1, y1):
    """pixel box (top-left origin) -> figure fraction [l, b, w, h]"""
    return [x0 / W, 1 - y1 / H, (x1 - x0) / W, (y1 - y0) / H]


fig = plt.figure(figsize=(W / 100, H / 100), dpi=100)
fig.patch.set_facecolor('white')


def draw_panel(prefix, order, ax_box, yticks, datefmt, title, title_xy,
               box_px, leg_xy):
    bx = px(*box_px)
    fig.patches.append(Rectangle((bx[0], bx[1]), bx[2], bx[3], transform=fig.transFigure,
                                 fill=False, edgecolor=BOX, linewidth=1.0,
                                 linestyle=(0, (4, 3)), zorder=0))
    fig.text(title_xy[0] / W, 1 - title_xy[1] / H, title, fontsize=23.8,
             fontweight='bold', color='#1c1c1c', ha='left', va='center')

    ax = fig.add_axes(px(*ax_box))
    handles = []
    for code in order:
        vals = series(prefix, code)
        if code == 'RO':
            ln, = ax.plot(dates, vals, color=YELLOW, lw=7.0, solid_capstyle='round',
                          solid_joinstyle='round', zorder=6, label=code)
        elif code in TAN_COUNTRIES:
            ln, = ax.plot(dates, vals, color=TAN, lw=1.5, zorder=3, label=code)
        else:
            ln, = ax.plot(dates, vals, color=DARK, lw=1.1, zorder=3, label=code)
        handles.append(ln)

    ax.set_xlim(mdates.date2num(datetime.date(2025, 1, 1)),
                mdates.date2num(datetime.date(2026, 7, 1)))
    ax.set_ylim(yticks[0], yticks[-1])
    ax.set_yticks(yticks)
    ax.yaxis.set_major_formatter(FuncFormatter(lambda v, p: f'{int(v):,}'))
    ax.set_xticks([mdates.date2num(pd.Timestamp(d)) for d in X_TICK_DATES])
    ax.xaxis.set_major_formatter(mdates.DateFormatter(datefmt))
    for s in ('top', 'right'):
        ax.spines[s].set_visible(False)
    for s in ('left', 'bottom'):
        ax.spines[s].set_color(SPINE)
        ax.spines[s].set_linewidth(1.3)
    ax.tick_params(axis='x', direction='out', length=8, width=1.2, color=SPINE,
                   labelsize=15.5, labelcolor=TXT, pad=4)
    ax.tick_params(axis='y', direction='out', length=6, width=1.2, color=SPINE,
                   labelsize=15.5, labelcolor=TXT, pad=5)
    ax.set_facecolor('none')

    leg = ax.legend(handles=handles, ncol=2, loc='upper left',
                    bbox_to_anchor=(leg_xy[0] / W, 1 - leg_xy[1] / H),
                    bbox_transform=fig.transFigure, frameon=False,
                    fontsize=15, handlelength=1.25, handletextpad=0.35,
                    columnspacing=0.55, labelspacing=0.53, borderpad=0,
                    borderaxespad=0)
    for t in leg.get_texts():
        t.set_color(TXT)
    return ax


draw_panel('TOP', TOP_ORDER, (431, 121.5, 1485, 645), TOP_YTICKS, '%d.%m.%y',
           TITLE_TOP, (355, 32), (357, 108, 1687, 678), (1531, 114))
draw_panel('BOT', BOT_ORDER, (440, 803, 1478, 1323), BOT_YTICKS, '%d.%m.%Y',
           TITLE_BOT, (367, 721), (367, 794, 1685, 1358), (1541, 801))

fig.savefig('out.png', dpi=100, facecolor='white')
